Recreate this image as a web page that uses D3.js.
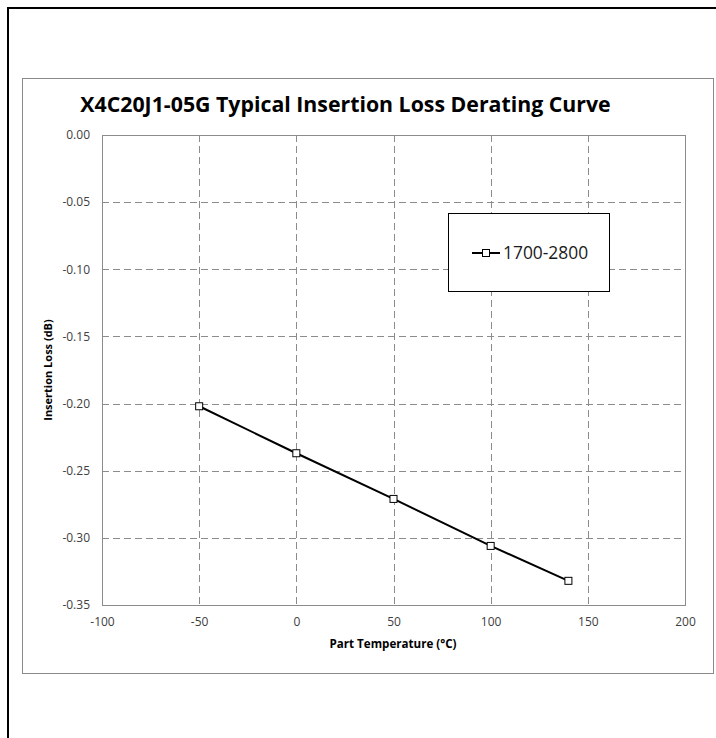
<!DOCTYPE html>
<html>
<head>
<meta charset="utf-8">
<script src="https://cdn.jsdelivr.net/npm/d3@7"></script>
<style>
  html, body { margin: 0; padding: 0; background: #fff; }
  svg { display: block; }
  text { font-family: "Open Sans", "Noto Sans", sans-serif; }
</style>
</head>
<body>
<svg id="chart" width="716" height="738"></svg>
<script>
// ---- data ----
const temperatures = [-50, 0, 50, 100, 140];
const insertionLoss = [-0.202, -0.237, -0.271, -0.306, -0.332];
const seriesName = "1700-2800";
const xTicks = [-100, -50, 0, 50, 100, 150, 200];
const yTicks = [0, -0.05, -0.10, -0.15, -0.20, -0.25, -0.30, -0.35];
const title = "X4C20J1-05G Typical Insertion Loss Derating Curve";
const xTitle = "Part Temperature (°C)";
const yTitle = "Insertion Loss (dB)";

const svg = d3.select("#chart");
const W = 716, H = 738;

// outer page frame (top and left black lines)
svg.append("line").attr("x1", 8).attr("x2", W).attr("y1", 8).attr("y2", 8)
  .attr("stroke", "#000").attr("stroke-width", 2);
svg.append("line").attr("x1", 8).attr("x2", 8).attr("y1", 7).attr("y2", H)
  .attr("stroke", "#000").attr("stroke-width", 2);

// chart area box
svg.append("rect").attr("x", 22.5).attr("y", 78.5).attr("width", 691).attr("height", 595)
  .attr("fill", "#fff").attr("stroke", "#898989").attr("stroke-width", 1);

const plot = { left: 102, right: 685, top: 135, bottom: 605 };

const x = d3.scaleLinear().domain([-100, 200]).range([plot.left, plot.right]);
const y = d3.scaleLinear().domain([-0.35, 0]).range([plot.bottom, plot.top]);

const gridColor = "#8c8c8c";

// gridlines
const grid = svg.append("g");
grid.selectAll("line.v").data(xTicks.slice(1, -1)).join("line")
  .attr("x1", d => Math.round(x(d)) + 0.5).attr("x2", d => Math.round(x(d)) + 0.5)
  .attr("y1", plot.top).attr("y2", plot.bottom)
  .attr("stroke", gridColor).attr("stroke-width", 1).attr("stroke-dasharray", "7,4");
grid.selectAll("line.h").data(yTicks.slice(1, -1)).join("line")
  .attr("y1", d => Math.round(y(d)) + 0.5).attr("y2", d => Math.round(y(d)) + 0.5)
  .attr("x1", plot.left).attr("x2", plot.right)
  .attr("stroke", gridColor).attr("stroke-width", 1).attr("stroke-dasharray", "7,4");

// plot border
svg.append("rect").attr("x", plot.left + 0.5).attr("y", plot.top + 0.5)
  .attr("width", plot.right - plot.left).attr("height", plot.bottom - plot.top)
  .attr("fill", "none").attr("stroke", gridColor).attr("stroke-width", 1);

// axes (labels only)
const xAxis = d3.axisBottom(x).tickValues(xTicks).tickSize(0).tickPadding(12)
  .tickFormat(d => String(d));
const gx = svg.append("g").attr("transform", `translate(0,${plot.bottom})`).call(xAxis);
gx.select(".domain").remove();
gx.selectAll("text").attr("font-size", 12).attr("fill", "#404040")
  .style("font-family", '"Open Sans", sans-serif');

const yAxis = d3.axisLeft(y).tickValues(yTicks).tickSize(0).tickPadding(12)
  .tickFormat(d => (Math.abs(d) < 1e-9 ? 0 : d).toFixed(2));
const gy = svg.append("g").attr("transform", `translate(${plot.left},0)`).call(yAxis);
gy.select(".domain").remove();
gy.selectAll("text").attr("font-size", 12).attr("fill", "#404040")
  .style("font-family", '"Open Sans", sans-serif');

// series line
const pts = temperatures.map((t, i) => [t, insertionLoss[i]]);
svg.append("path").datum(pts)
  .attr("d", d3.line().x(d => x(d[0])).y(d => y(d[1])))
  .attr("fill", "none").attr("stroke", "#000").attr("stroke-width", 2);

svg.append("g").selectAll("rect").data(pts).join("rect")
  .attr("x", d => x(d[0]) - 3.5).attr("y", d => y(d[1]) - 3.5)
  .attr("width", 7).attr("height", 7)
  .attr("fill", "#fff").attr("stroke", "#000").attr("stroke-width", 1);

// title
svg.append("text").attr("x", 345.5).attr("y", 112).attr("text-anchor", "middle")
  .attr("font-size", 21.3).attr("font-weight", "bold").attr("fill", "#000")
  .text(title);

// axis titles
svg.append("text").attr("x", 393).attr("y", 648).attr("text-anchor", "middle")
  .attr("font-size", 11.6).attr("font-weight", "bold").attr("fill", "#000")
  .text(xTitle);
svg.append("text").attr("transform", "translate(52,370) rotate(-90)")
  .attr("text-anchor", "middle")
  .attr("font-size", 11).attr("font-weight", "bold").attr("fill", "#000")
  .text(yTitle);

// legend
const lg = svg.append("g");
lg.append("rect").attr("x", 448.5).attr("y", 213.5).attr("width", 161).attr("height", 78)
  .attr("fill", "#fff").attr("stroke", "#000").attr("stroke-width", 1);
lg.append("line").attr("x1", 472).attr("x2", 500).attr("y1", 253).attr("y2", 253)
  .attr("stroke", "#000").attr("stroke-width", 2);
lg.append("rect").attr("x", 482.5).attr("y", 249.5).attr("width", 7).attr("height", 7)
  .attr("fill", "#fff").attr("stroke", "#000").attr("stroke-width", 1);
lg.append("text").attr("x", 503).attr("y", 259).attr("font-size", 17.4)
  .attr("fill", "#1a1a1a").text(seriesName);
</script>
</body>
</html>
